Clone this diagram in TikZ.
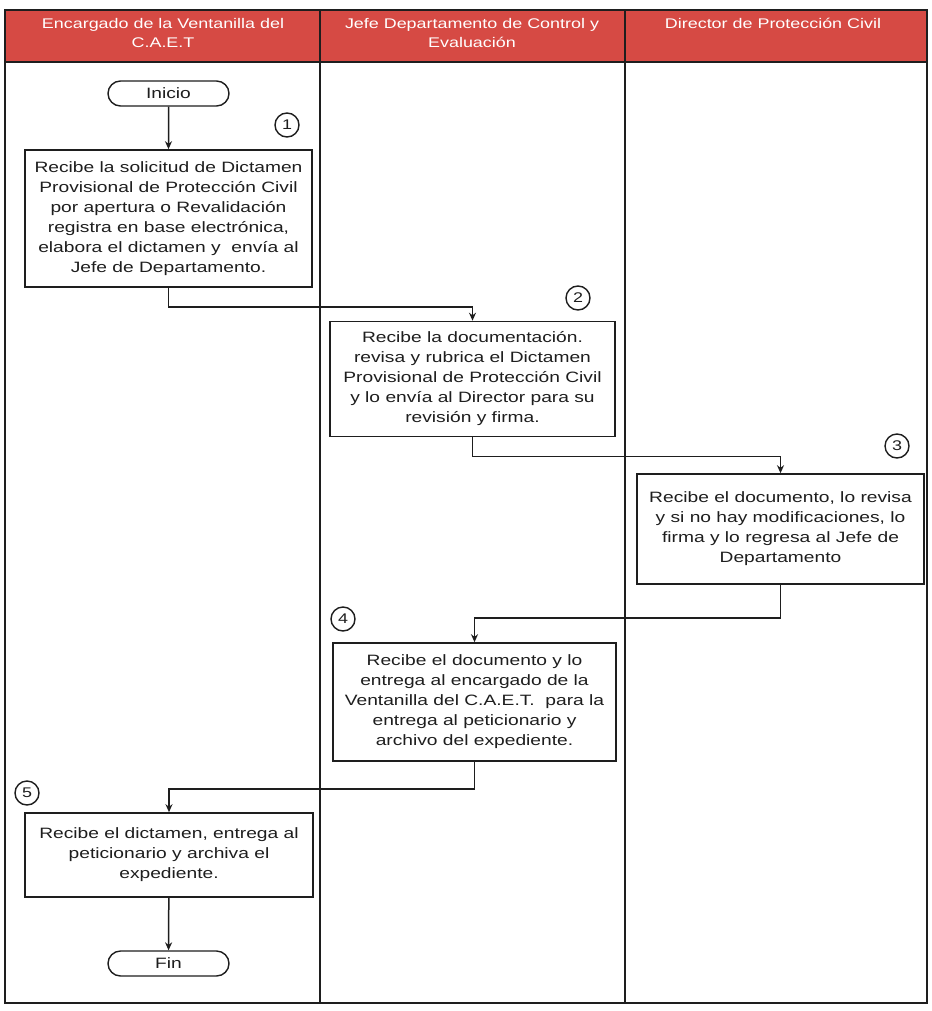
\documentclass[tikz,border=0pt]{standalone}
\usepackage{fontspec}
\setmainfont[FakeStretch=1.28]{Liberation Sans}
\usetikzlibrary{arrows.meta,shapes.misc}
\definecolor{hdrred}{RGB}{214,74,68}
\definecolor{ink}{RGB}{30,30,30}
\tikzset{
  lane/.style={draw=ink,line width=1.4pt},
  hdrtext/.style={text=white,align=center,font=\fontsize{14}{19}\selectfont},
  stepbox/.style={draw=ink,line width=1.6pt,inner sep=0pt,align=center,
    text=ink,font=\fontsize{15}{20}\selectfont},
  term/.style={draw=ink,line width=1.4pt,rounded rectangle,minimum width=121pt,
    minimum height=25pt,inner sep=0pt,text=ink,font=\fontsize{15}{16}\selectfont},
  num/.style={draw=ink,line width=1.4pt,circle,minimum size=24pt,inner sep=0pt,
    text=ink,font=\fontsize{14}{15}\selectfont},
  arr/.style={draw=ink,line width=1.5pt,-{Stealth[length=8pt,width=7pt]}}
}
\begin{document}
\begin{tikzpicture}[x=1pt,y=-1pt]
\useasboundingbox (0,0) rectangle (931,1011);
\fill[white] (0,0) rectangle (931,1011);

% header band and lanes
\fill[hdrred] (5,10) rectangle (927,62);
\draw[lane] (5,10) rectangle (927,1003);
\draw[lane] (5,62) -- (927,62);
\draw[lane] (320,10) -- (320,1003);
\draw[lane] (625,10) -- (625,1003);

\node[hdrtext] (h1) at (163,33) {Encargado de la Ventanilla del\\C.A.E.T};
\node[hdrtext] (h2) at (472,33) {Jefe Departamento de Control y\\Evaluación};
\node[hdrtext] (h3) at (773,23) {Director de Protección Civil};

% start / end
\node[term] (ini) at (168.5,93.5) {Inicio};
\node[term] (fin) at (168.5,963.5) {Fin};

% process steps
\node[stepbox,minimum width=287pt,minimum height=137pt] (b1) at (168.5,218.5)
  {Recibe la solicitud de Dictamen\\Provisional de Protección Civil\\por apertura o Revalidación\\registra en base electrónica,\\elabora el dictamen y\ \ envía al\\Jefe de Departamento.};
\node[stepbox,minimum width=285pt,minimum height=115pt] (b2) at (472.5,379)
  {Recibe la documentación.\\revisa y rubrica el Dictamen\\Provisional de Protección Civil\\y lo envía al Director para su\\revisión y firma.};
\node[stepbox,minimum width=287pt,minimum height=110pt] (b3) at (780.5,529)
  {Recibe el documento, lo revisa\\y si no hay modificaciones, lo\\firma y lo regresa al Jefe de\\Departamento};
\node[stepbox,minimum width=283pt,minimum height=118pt] (b4) at (474.5,702)
  {Recibe el documento y lo\\entrega al encargado de la\\Ventanilla del C.A.E.T.\ \ para la\\entrega al peticionario y\\archivo del expediente.};
\node[stepbox,minimum width=288pt,minimum height=84pt] (b5) at (169,855)
  {Recibe el dictamen, entrega al\\peticionario y archiva el\\expediente.};

% step numbers
\node[num] (n1) at (287,125) {1};
\node[num] (n2) at (578,298) {2};
\node[num] (n3) at (897,446) {3};
\node[num] (n4) at (343,619) {4};
\node[num] (n5) at (27,793) {5};

% flow
\draw[arr] (ini) -- (b1);
\draw[arr] (b1.south) -- ++(0,19) -| (b2.north);
\draw[arr] (b2.south) -- ++(0,19) -| (b3.north);
\draw[arr] (b3.south) -- ++(0,33) -| (b4.north);
\draw[arr] (b4.south) -- ++(0,27) -| (b5.north);
\draw[arr] (b5) -- (fin);
\end{tikzpicture}
\end{document}
